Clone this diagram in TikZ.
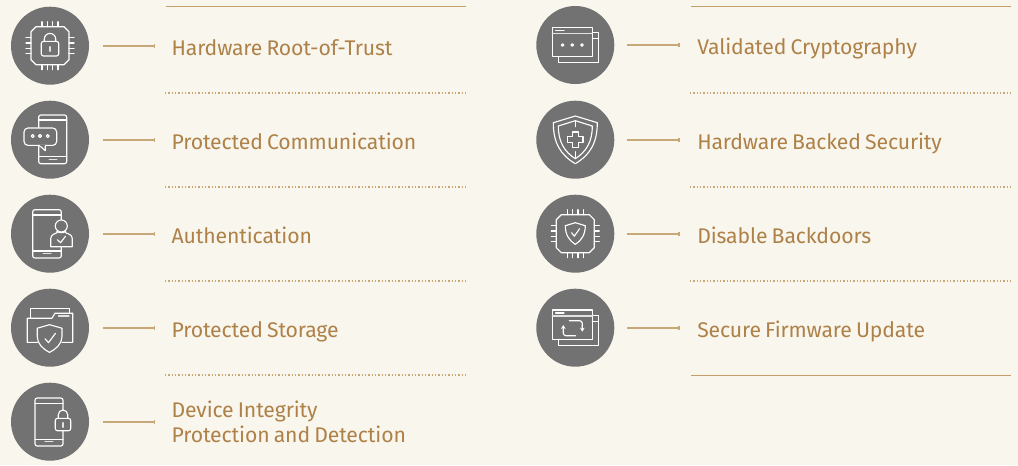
\documentclass[tikz,border=0pt]{standalone}
\usepackage{fontspec}
\setmainfont[WordSpace=0.75,LetterSpace=-0.6]{Fira Sans}
\usetikzlibrary{arrows.meta}
\definecolor{bg}{HTML}{F9F6EE}
\definecolor{disc}{HTML}{727272}
\definecolor{gold}{HTML}{AE8148}
\definecolor{rule}{HTML}{C49D68}
\definecolor{conn}{HTML}{C9A878}
\tikzset{
  px/.style={x=0.75pt,y=-0.75pt},
  disc/.style={circle,fill=disc,draw=none,minimum size=58.5pt,inner sep=0pt},
  label/.style={anchor=base west,inner sep=0pt,text=gold,font=\fontsize{15.9pt}{18.7pt}\selectfont,align=left},
  connector/.style={draw=conn,line width=1.3pt,-{Bar[width=3pt,length=0.6pt]},shorten <=10.5pt,shorten >=12pt},
  connectorR/.style={connector,shorten <=9.6pt,shorten >=13pt},
  solidrule/.style={draw=rule,line width=0.8pt},
  dotrule/.style={draw=conn,line width=0.9pt,dash pattern=on 0.9pt off 1.6pt},
  ic/.style={draw=white,line width=0.85pt,line join=round,line cap=round},
  icdim/.style={draw=white!80!disc,line width=1.1pt,line cap=round},
}
\newcommand{\chipbody}{%
  \draw[ic] (-14,-19)--(14,-19)--(19,-14)--(19,14)--(14,19)--(-14,19)--(-19,14)--(-19,-14)--cycle;
  \foreach \p in {-8,-2.7,2.7,8}{
    \draw[ic] (\p,-24)--(\p,-19) (\p,19)--(\p,24) (-24,\p)--(-19,\p) (19,\p)--(24,\p);}
}
\newcommand{\windows}{%
  \draw[ic] (17,-12.3)--(23,-12.3)--(23,17.7)--(-17,17.7)--(-17,11.7);
  \draw[ic] (17,-6.3)--(23,-6.3);
  \draw[ic] (-23,-17.7) rectangle (17,11.7);
  \draw[icdim] (-23,-11.7)--(17,-11.7);
  \draw[ic] (-19.7,-14.7)--(-11.3,-14.7);
}
\newcommand{\phonebar}[3]{% left,right,y
  \draw[icdim] (#1,#3)--(#2,#3);
}
\begin{document}
\begin{tikzpicture}[px]
\useasboundingbox (0,0) rectangle (1018,465);
\fill[bg] (0,0) rectangle (1018,465);

% discs
\node[disc] (ic1) at (50,45.7) {};
\node[disc] (ic2) at (50,139.7) {};
\node[disc] (ic3) at (50,233.7) {};
\node[disc] (ic4) at (50,327.7) {};
\node[disc] (ic5) at (50,421.7) {};
\node[disc] (ic6) at (575.3,45) {};
\node[disc] (ic7) at (575.3,139.7) {};
\node[disc] (ic8) at (575.3,233.7) {};
\node[disc] (ic9) at (575.3,327.7) {};

% labels
\node[label] (t1) at (171.3,55.3) {Hardware Root-of-Trust};
\node[label] (t2) at (171.3,149.3) {Protected Communication};
\node[label] (t3) at (171.3,243.3) {Authentication};
\node[label] (t4) at (171.3,337.3) {Protected Storage};
\node[label] (t5) at (171.3,442) {Device Integrity\\Protection and Detection};
\node[label] (t6) at (697,54.2) {Validated Cryptography};
\node[label] (t7) at (697,149.3) {Hardware Backed Security};
\node[label] (t8) at (697,243.3) {Disable Backdoors};
\node[label] (t9) at (697,337.3) {Secure Firmware Update};

% connectors
\foreach \n in {1,...,5}{
  \draw[connector] (ic\n) -- (ic\n -| t\n.west);
}
\foreach \n in {6,...,9}{
  \draw[connectorR] (ic\n) -- (ic\n -| t\n.west);
}

% rules
\draw[solidrule] (166,6.5)--(466,6.5);
\draw[solidrule] (691,6.5)--(1011,6.5);
\draw[solidrule] (691,375.5)--(1011,375.5);
\foreach \y in {93,187,281,375}{\draw[dotrule] (165,\y)--(467,\y);}
\foreach \y in {93,187,281}{\draw[dotrule] (690,\y)--(1011,\y);}

% icon 1: chip + lock
\begin{scope}[shift={(ic1.center)}]
  \chipbody
  \draw[ic,rounded corners=1.6pt] (-8.7,-4.3) rectangle (8.7,10.3);
  \draw[ic] (-5.7,-4.3)--(-5.7,-6.6) arc[start angle=180,end angle=360,radius=5.7]--(5.7,-4.3);
  \draw[icdim] (0,1)--(0,5.5);
\end{scope}

% icon 2: phone + chat
\begin{scope}[shift={(ic2.center)}]
  \draw[ic,rounded corners=1.6pt] (-11.3,-11.7)--(-11.3,-24.7)--(16.7,-24.7)--(16.7,24)--(-11.3,24)--(-11.3,6);
  \draw[ic] (-11.3,-19.7)--(16.7,-19.7);
  \draw[ic] (-11.3,17)--(16.7,17);
  \phonebar{-0.7}{6.7}{19.7}
  \draw[ic,fill=disc,rounded corners=3pt] (-26,-11.7) rectangle (6.7,5.7);
  \draw[ic,fill=disc] (-10.7,5.7)--(-4.7,11)--(-4.7,5.7);
  \draw[draw=disc,line width=1.2pt] (-9.8,5.7)--(-5.4,5.7);
  \foreach \x in {-17.3,-10,-2.3}{\draw[ic] (\x,-3.7) circle[radius=1.5];}
\end{scope}

% icon 3: phone + person
\begin{scope}[shift={(ic3.center)}]
  \draw[ic,rounded corners=1.6pt] (11.3,-14)--(11.3,-24)--(-17.3,-24)--(-17.3,24.3)--(11.3,24.3)--(11.3,13);
  \draw[ic] (-17.3,-18.7)--(11.3,-18.7);
  \draw[ic] (-17.3,17.3)--(11.3,17.3);
  \phonebar{-6.7}{1}{20}
  \draw[ic,fill=disc] (0.7,13)--(0.7,5)..controls (0.7,1) and (5,0) .. (7,-1)--(7,-2.5)
     ..controls (9,-0.5) and (13.5,-0.5) .. (15.5,-2.5)--(15.5,-1)..controls (18,0) and (22.3,1) .. (22.3,5)--(22.3,13)--cycle;
  \draw[ic,fill=disc] (11.3,-7.7) circle[radius=6];
  \draw[ic] (7.3,6)--(10.6,9)--(15.5,2.5);
\end{scope}

% icon 4: folder + shield
\begin{scope}[shift={(ic4.center)}]
  \draw[ic] (-19.7,-9.5)--(-19.7,-19)--(19.3,-19)--(19.3,-14.5);
  \draw[ic] (-12.7,14.7)--(-22.7,14.7)--(-22.7,-9.5)--(2,-9.5)--(5,-14.5)--(22.7,-14.5)--(22.7,14.7)--(12,14.7);
  \draw[icdim] (8.5,-11.5)--(19,-11.5);
  \draw[ic,fill=disc] (-0.5,-3)--(12,0.5)--(12,9)..controls (12,16) and (6,21.5) .. (-0.5,24.7)
     ..controls (-7,21.5) and (-12.7,16) .. (-12.7,9)--(-12.7,0.5)--cycle;
  \draw[ic] (-5,11)--(-1.5,15)--(5.5,5.5);
\end{scope}

% icon 5: phone + lock
\begin{scope}[shift={(ic5.center)}]
  \draw[ic,rounded corners=1.6pt] (13,-11)--(13,-23.7)--(-15,-23.7)--(-15,24.3)--(13,24.3)--(13,9);
  \draw[ic] (-15,-18.4)--(13,-18.4);
  \draw[ic] (-15,17.6)--(13,17.6);
  \phonebar{-5}{2.7}{20}
  \draw[ic,fill=disc,rounded corners=1.6pt] (5.3,-3.3) rectangle (20.7,9);
  \draw[ic] (8.3,-3.3)--(8.3,-7) arc[start angle=180,end angle=360,radius=4.7]--(17.7,-3.3);
  \draw[icdim] (13,1)--(13,5.5);
\end{scope}

% icon 6: windows + dots
\begin{scope}[shift={(ic6.center)}]
  \windows
  \foreach \x in {-12.7,-3,6.7}{\draw[ic] (\x,0) circle[radius=1.3];}
\end{scope}

% icon 7: shield + cross
\begin{scope}[shift={(ic7.center)}]
  \draw[ic] (0,-23.7)--(22,-17)..controls (22,3) and (15,15) .. (0,24)
     ..controls (-15,15) and (-22,3) .. (-22,-17)--cycle;
  \draw[ic] (0,-19)--(17,-13.7)..controls (17,2) and (11,12) .. (0,19)
     ..controls (-11,12) and (-17,2) .. (-17,-13.7)--cycle;
  \draw[ic] (-2.8,-7.7)--(2.8,-7.7)--(2.8,-2.8)--(7.7,-2.8)--(7.7,2.8)--(2.8,2.8)--(2.8,7.7)--(-2.8,7.7)--(-2.8,2.8)--(-7.7,2.8)--(-7.7,-2.8)--(-2.8,-2.8)--cycle;
  \draw[ic] (0,-19)--(0,-13) (0,12)--(0,19);
\end{scope}

% icon 8: chip + shield
\begin{scope}[shift={(ic8.center)}]
  \chipbody
  \draw[ic] (0,-11)--(10,-8)..controls (10,1) and (6,7) .. (0,10.7)
     ..controls (-6,7) and (-10,1) .. (-10,-8)--cycle;
  \draw[ic] (-3.7,-1)--(-1,2.5)--(4.3,-5);
\end{scope}

% icon 9: windows + arrows
\begin{scope}[shift={(ic9.center)}]
  \windows
  \draw[ic,rounded corners=2pt,-{Stealth[length=3pt,width=3.5pt]}] (-6,-7)--(7,-7)--(7,4);
  \draw[ic,rounded corners=2pt,-{Stealth[length=3pt,width=3.5pt]}] (0.3,8)--(-12,8)--(-12,-2.7);
\end{scope}
\end{tikzpicture}
\end{document}
